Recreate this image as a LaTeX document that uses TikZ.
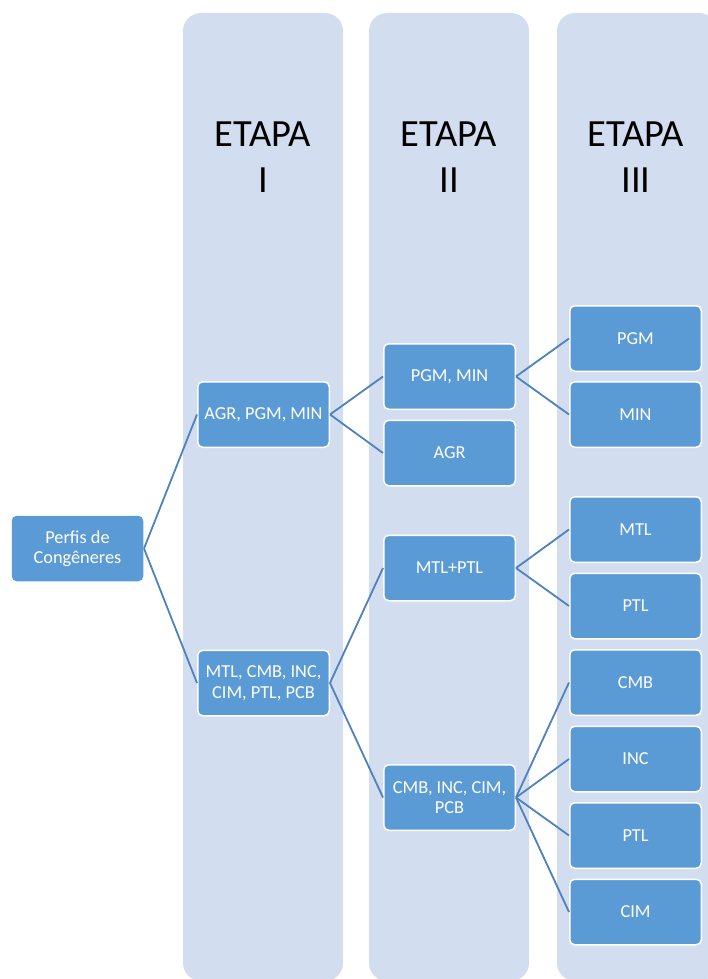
\documentclass[tikz,border=0pt]{standalone}
\usepackage{fontspec}
\setmainfont{Carlito}
\definecolor{colfill}{RGB}{210,222,239}
\definecolor{boxfill}{RGB}{91,155,213}
\definecolor{linecol}{RGB}{79,129,189}
\tikzset{
  column/.style={fill=colfill, draw=none, rounded corners=18pt},
  box/.style={rectangle, rounded corners=5pt, fill=boxfill, draw=white, line width=1.5pt,
    minimum width=131.5pt, minimum height=65.5pt, inner sep=2pt, align=center,
    text=white, font=\fontsize{18.3}{20.5}\selectfont},
  heading/.style={align=center, inner sep=0pt, text=black, font=\fontsize{38.5}{46.5}\selectfont},
  conn/.style={draw=linecol, line width=1.8pt}
}
\begin{document}
\begin{tikzpicture}[x=1pt,y=-1pt]
\useasboundingbox (0,0) rectangle (708,979);
\clip (0,0) rectangle (708,979);
% columns
\fill[column] (183,13) rectangle (343,981);
\fill[column] (369,13) rectangle (529,981);
\fill[column] (557,13) rectangle (717,981);
% headings
\node (h1) [heading, anchor=north] at (263,121.5) {ETAPA\\I};
\node (h2) [heading, anchor=north] at (449,121.5) {ETAPA\\II};
\node (h3) [heading, anchor=north] at (636,121.5) {ETAPA\\III};
% nodes
\node (p) [box, draw=none] at (77.5,548.5) {Perfis de\\Congêneres};
\node (a1) [box] at (263.5,414.5) {AGR, PGM, MIN};
\node (a2) [box] at (263.5,683) {MTL, CMB, INC,\\CIM, PTL, PCB};
\node (b1) [box] at (449.5,376.5) {PGM, MIN};
\node (b2) [box] at (449.5,453) {AGR};
\node (b3) [box] at (449.5,568) {MTL+PTL};
\node (b4) [box] at (449.5,797.5) {CMB, INC, CIM,\\PCB};
\node (c1) [box] at (635.5,338.5) {PGM};
\node (c2) [box] at (635.5,414.5) {MIN};
\node (c3) [box] at (635.5,529.5) {MTL};
\node (c4) [box] at (635.5,606) {PTL};
\node (c5) [box] at (635.5,682.5) {CMB};
\node (c6) [box] at (635.5,759) {INC};
\node (c7) [box] at (635.5,835.5) {PTL};
\node (c8) [box] at (635.5,912) {CIM};
% connectors
\draw[conn] (p.east) -- (a1.west);
\draw[conn] (p.east) -- (a2.west);
\draw[conn] (a1.east) -- (b1.west);
\draw[conn] (a1.east) -- (b2.west);
\draw[conn] (a2.east) -- (b3.west);
\draw[conn] (a2.east) -- (b4.west);
\draw[conn] (b1.east) -- (c1.west);
\draw[conn] (b1.east) -- (c2.west);
\draw[conn] (b3.east) -- (c3.west);
\draw[conn] (b3.east) -- (c4.west);
\draw[conn] (b4.east) -- (c5.west);
\draw[conn] (b4.east) -- (c6.west);
\draw[conn] (b4.east) -- (c7.west);
\draw[conn] (b4.east) -- (c8.west);
\end{tikzpicture}
\end{document}
